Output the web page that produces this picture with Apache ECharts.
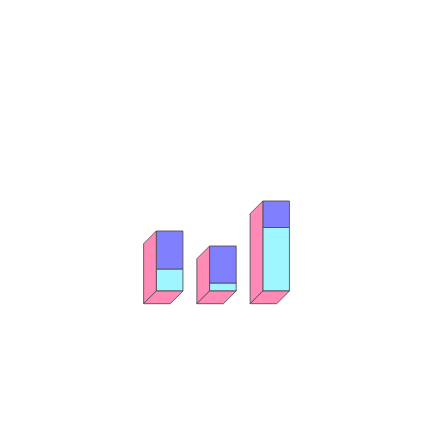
<!DOCTYPE html>
<html>
<head>
<meta charset="utf-8">
<style>html,body{margin:0;padding:0;background:#fff}#c{width:433px;height:433px}</style>
<script src="https://cdn.jsdelivr.net/npm/echarts@6/dist/echarts.min.js"></script>
</head>
<body>
<div id="c"></div>
<script>
const categories = ['A', 'B', 'C'];
const lowerValues = [22, 8, 63.5];
const upperValues = [38, 37, 26.5];

const DEPTH = 12.7;
const BAR_W = 26.6;
const EDGE = '#4a4a55';
const PINK = '#ff8ab5';
const BLUE = '#8080ff';
const CYAN = '#a0f6ff';

const chart = echarts.init(document.getElementById('c'), null, { renderer: 'canvas' });

function renderBox(params, api) {
  const i = api.value(0);
  const low = api.value(1);
  const up = api.value(2);
  const base = api.coord([i, 0]);
  const mid = api.coord([i, low]);
  const top = api.coord([i, low + up]);
  const xl = base[0] - BAR_W / 2;
  const xr = base[0] + BAR_W / 2;
  const style = function (fill) {
    return { fill: fill, stroke: EDGE, lineWidth: 0.85 };
  };
  const poly = function (points, fill) {
    return { type: 'polygon', shape: { points: points }, style: style(fill) };
  };
  return {
    type: 'group',
    children: [
      poly([[xl, mid[1]], [xr, mid[1]], [xr, base[1]], [xl, base[1]]], CYAN),
      poly([[xl, top[1]], [xr, top[1]], [xr, mid[1]], [xl, mid[1]]], BLUE),
      poly([[xl - DEPTH, base[1] + DEPTH], [xl - DEPTH, top[1] + DEPTH], [xl, top[1]], [xl, base[1]]], PINK),
      poly([[xl - DEPTH, base[1] + DEPTH], [xr - DEPTH, base[1] + DEPTH], [xr, base[1]], [xl, base[1]]], PINK)
    ]
  };
}

chart.setOption({
  animation: false,
  backgroundColor: '#ffffff',
  grid: { left: 143, top: 91, width: 159.75, height: 200 },
  xAxis: { type: 'category', data: categories, show: false },
  yAxis: { type: 'value', min: 0, max: 200, show: false },
  series: [{
    type: 'custom',
    renderItem: renderBox,
    encode: { x: 0, y: [1, 2] },
    data: categories.map(function (c, i) { return [i, lowerValues[i], upperValues[i]]; })
  }]
});
</script>
</body>
</html>
